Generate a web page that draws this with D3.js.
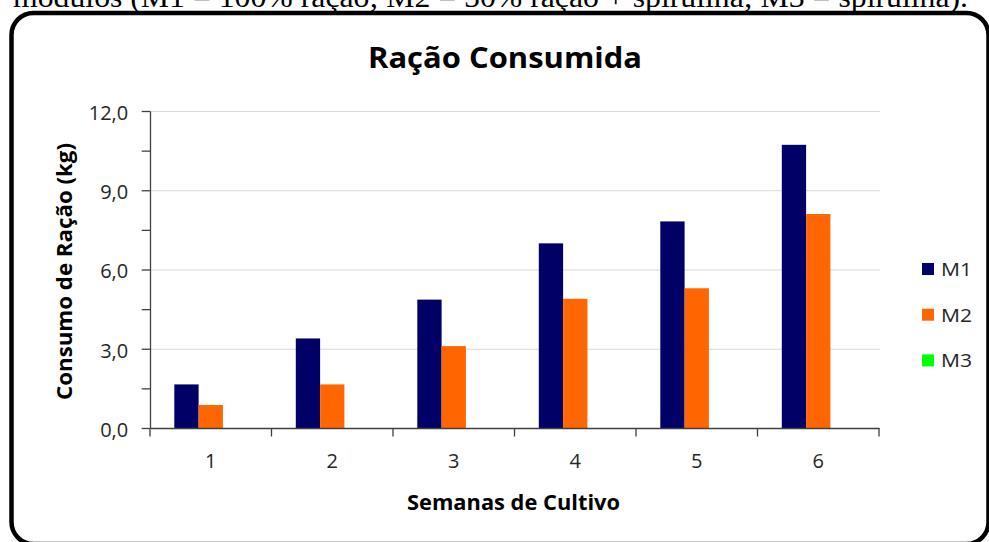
<!DOCTYPE html>
<html>
<head>
<meta charset="utf-8">
<script src="https://cdn.jsdelivr.net/npm/d3@7"></script>
<style>
  html, body { margin: 0; padding: 0; background: #fff; }
  svg { display: block; }
</style>
</head>
<body>
<svg id="chart" width="989" height="542"></svg>
<script>
// ---- data ----
const categories = ["1", "2", "3", "4", "5", "6"];
const seriesNames = ["M1", "M2", "M3"];
const m1Values = [1.65, 3.39, 4.86, 6.99, 7.82, 10.72];
const m2Values = [0.87, 1.65, 3.10, 4.89, 5.29, 8.10];
const m3Values = [0, 0, 0, 0, 0, 0];
const yTickValues = [0, 1.5, 3, 4.5, 6, 7.5, 9, 10.5, 12];
const yLabelValues = [0, 3, 6, 9, 12];
const seriesColors = ["#000066", "#FF6600", "#00FF00"];

const chartTitle = "Ração Consumida";
const yTitle = "Consumo de Ração (kg)";
const xTitle = "Semanas de Cultivo";
const captionText = "módulos (M1 = 100% ração; M2 = 50% ração + spirulina; M3 = spirulina).";

const seriesValues = [m1Values, m2Values, m3Values];
const table = categories.map((c, i) => ({
  cat: c,
  vals: seriesNames.map((s, j) => ({ name: s, value: seriesValues[j][i], color: seriesColors[j] }))
}));

// ---- layout ----
const svg = d3.select("#chart");
const plot = { left: 150, right: 879, top: 111, bottom: 428 };
const font = "'Open Sans', 'Noto Sans', sans-serif";

// caption cut at top (document text, partially outside the picture as in the reference)
svg.append("text")
  .attr("x", 13).attr("y", 7)
  .attr("textLength", 955).attr("lengthAdjust", "spacingAndGlyphs")
  .style("font-family", "'Liberation Serif', 'DejaVu Serif', serif")
  .style("font-size", "29px")
  .attr("fill", "#000")
  .text(captionText);

// frame
svg.append("rect")
  .attr("x", 11.5).attr("y", 13)
  .attr("width", 977).attr("height", 531)
  .attr("rx", 22).attr("ry", 22)
  .attr("fill", "none").attr("stroke", "#000").attr("stroke-width", 4.5);

// scales
const x = d3.scaleBand().domain(categories).range([plot.left, plot.right]).paddingInner(0).paddingOuter(0);
const xs = d3.scaleBand().domain(seriesNames).range([0, x.bandwidth()]).paddingInner(0).paddingOuter(1);
const y = d3.scaleLinear().domain([0, 12]).range([plot.bottom, plot.top]);

// gridlines
svg.append("g").selectAll("line").data(yLabelValues.filter(d => d > 0)).join("line")
  .attr("x1", plot.left).attr("x2", plot.right + 1)
  .attr("y1", d => y(d) + 0.5).attr("y2", d => y(d) + 0.5)
  .attr("stroke", "#d9d9d9").attr("stroke-width", 1.2);

// bars
const groups = svg.append("g").selectAll("g").data(table).join("g")
  .attr("transform", d => `translate(${x(d.cat)},0)`);
groups.selectAll("rect").data(d => d.vals).join("rect")
  .attr("x", d => xs(d.name))
  .attr("width", xs.bandwidth())
  .attr("y", d => y(d.value))
  .attr("height", d => y(0) - y(d.value))
  .attr("fill", d => d.color);

// y axis
const fmt = d3.format(".1f");
const yAxis = d3.axisLeft(y)
  .tickValues(yTickValues)
  .tickSizeInner(8.3).tickSizeOuter(0).tickPadding(13.5)
  .tickFormat(d => yLabelValues.includes(d) ? fmt(d).replace(".", ",") : "");
const gy = svg.append("g").attr("transform", `translate(${plot.left},0)`).call(yAxis);
gy.select(".domain").attr("stroke", "#404040").attr("stroke-width", 1.3);
gy.selectAll(".tick line").attr("stroke", "#404040").attr("stroke-width", 1.3);
gy.selectAll(".tick text")
  .attr("dy", "0.42em")
  .style("font-family", font).style("font-size", "20px").attr("fill", "#262626");

// x axis (labels)
const xAxis = d3.axisBottom(x).tickSizeInner(0).tickSizeOuter(0).tickPadding(26);
const gx = svg.append("g").attr("transform", `translate(0,${plot.bottom})`).call(xAxis);
gx.select(".domain").attr("stroke", "#404040").attr("stroke-width", 1.3);
gx.selectAll(".tick text")
  .style("font-family", font).style("font-size", "20px").attr("fill", "#262626");
// x boundary ticks
const bounds = categories.map(c => x(c)).concat([x(categories[categories.length - 1]) + x.bandwidth()]);
gx.append("g").selectAll("line").data(bounds).join("line")
  .attr("x1", d => d).attr("x2", d => d)
  .attr("y1", 0).attr("y2", 8.5)
  .attr("stroke", "#404040").attr("stroke-width", 1.3);

// title
svg.append("text")
  .attr("x", 505).attr("y", 67.5)
  .attr("text-anchor", "middle")
  .attr("textLength", 274).attr("lengthAdjust", "spacingAndGlyphs")
  .style("font-family", font).style("font-weight", "bold").style("font-size", "29px")
  .attr("fill", "#000")
  .text(chartTitle);

// x title
svg.append("text")
  .attr("x", 513.5).attr("y", 510)
  .attr("text-anchor", "middle")
  .attr("textLength", 213).attr("lengthAdjust", "spacingAndGlyphs")
  .style("font-family", font).style("font-weight", "bold").style("font-size", "22px")
  .attr("fill", "#000")
  .text(xTitle);

// y title
svg.append("text")
  .attr("transform", "translate(72,271.5) rotate(-90)")
  .attr("text-anchor", "middle")
  .attr("textLength", 257).attr("lengthAdjust", "spacingAndGlyphs")
  .style("font-family", font).style("font-weight", "bold").style("font-size", "22px")
  .attr("fill", "#000")
  .text(yTitle);

// legend
const legend = svg.append("g").selectAll("g").data(seriesNames).join("g")
  .attr("transform", (d, i) => `translate(922,${263 + i * 45.7})`);
legend.append("rect")
  .attr("width", 12).attr("height", 12)
  .attr("fill", (d, i) => seriesColors[i]);
legend.append("text")
  .attr("x", 19).attr("y", 13)
  .attr("textLength", 31).attr("lengthAdjust", "spacingAndGlyphs")
  .style("font-family", font).style("font-size", "18px")
  .attr("fill", "#262626")
  .text(d => d);
</script>
</body>
</html>
